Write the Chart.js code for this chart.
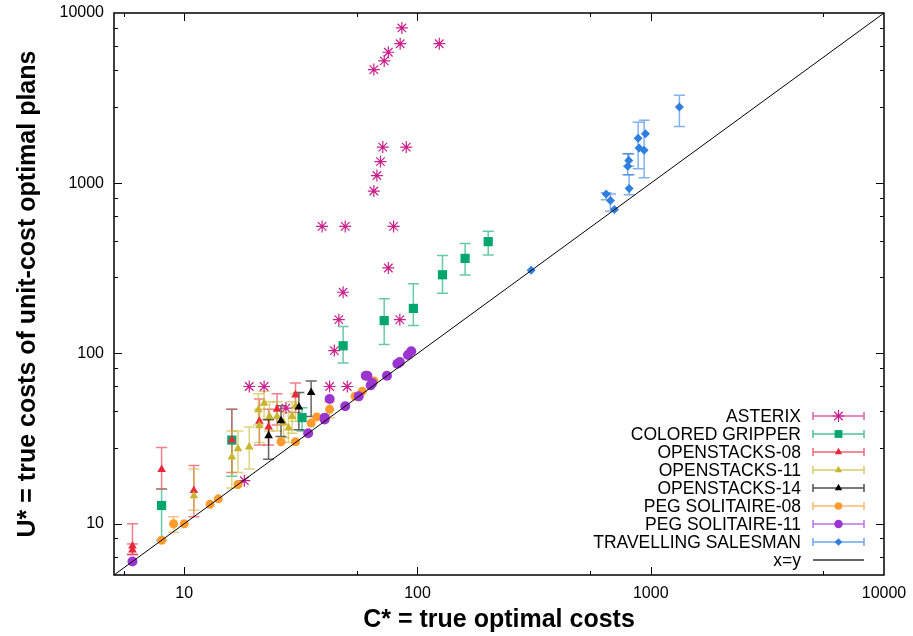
<!DOCTYPE html>
<html>
<head>
<meta charset="utf-8">
<script src="https://cdn.jsdelivr.net/npm/chart.js@4.4.0/dist/chart.umd.min.js"></script>
<style>
  html, body { margin: 0; padding: 0; background: #fff; }
  #wrap { width: 913px; height: 636px; position: relative; }
</style>
</head>
<body>
<div id="wrap"><canvas id="chart"></canvas></div>
<script>
const majorTicks = [10, 100, 1000, 10000];
const xMinorTicks = [5.5, 55, 550, 5500];
const yMinorTicks = [6.4, 8.2, 28, 46, 64, 82, 280, 460, 640, 820, 2800, 4600, 6400, 8200];
const diagonal = [5, 10000];

// [C*, U*] or [C*, U*, low, high]
const asterix = [
  [85.7, 8170], [84.3, 6600], [124, 6600], [75, 5880], [72, 5230], [65, 4650],
  [71, 1630], [89.5, 1630], [69.4, 1340], [67, 1110], [65, 900],
  [39, 558], [49, 558], [79, 558], [75, 318], [48, 229], [46, 158], [84, 158],
  [44, 104], [42, 64], [50, 64], [19, 64], [22, 64], [27.3, 47.8], [18.1, 17.9]
];
const gripper = [
  [8, 12.8, 8, 16], [16, 31, 19, 47], [32, 42, 35, 48], [48, 111, 88, 144],
  [72, 156, 113, 210], [96, 184, 146, 257], [128, 290, 226, 377],
  [160, 362, 289, 443], [201, 454, 379, 522]
];
const openstacks08 = [
  [6, 7.4, 6.6, 10], [6, 7, 6.6, 7.6], [8, 20.8, 16, 28], [11, 15.7, 11, 22],
  [16, 31, 20, 47], [21, 40, 29, 54], [23, 37, 29, 47], [30, 57, 45, 67], [25, 47, 38, 58]
];
const openstacks11 = [
  [11, 14.6, 12, 21], [16, 24.7, 16.2, 35], [17, 27.6, 20, 35], [19, 28.2, 21, 37],
  [20.8, 46.8, 38, 58], [22, 51, 41, 60], [21, 37.7, 30, 47], [23.2, 42.7, 35, 52],
  [25, 42.7, 35, 52], [26.7, 39, 32, 47], [28, 36.5, 30, 45], [29, 42.7, 34, 52], [30, 49, 40, 58]
];
const openstacks14 = [
  [23, 32.9, 23.9, 40.8], [26, 40.3, 32.5, 49.4], [31, 48.5, 35.6, 59], [35, 59, 42.7, 69]
];
const pegSolitaire08 = [
  [8, 8], [9, 10, 8.9, 11], [10, 10], [12.9, 13], [14, 14], [17, 17], [26, 30.3],
  [30, 30.3], [35, 39], [37, 42.4], [42, 47, 42, 52], [54, 56], [58, 60], [65, 69]
];
const pegSolitaire11 = [
  [6, 6], [34, 34], [40, 41], [40, 42], [42, 54], [49, 49], [56, 56], [61, 74], [60, 74],
  [63, 65], [64, 67], [74, 74], [82, 87], [84, 89], [91, 98], [94, 103]
];
const salesman = [
  [307, 308], [644, 865, 800, 880], [672, 791, 684, 865], [699, 700],
  [805, 1358, 1257, 1490], [797, 1257, 1123, 1490], [808, 933, 857, 1123],
  [883, 1836, 1218, 2280], [891, 1612], [937, 1560, 1079, 2342], [949, 1955],
  [1327, 2806, 2153, 3284]
];

const FONT = '"Liberation Sans", Arial, Helvetica, sans-serif';

const series = [
  { label: 'ASTERIX', data: asterix, color: '#c9208b', style: 'star', r: 6 },
  { label: 'COLORED GRIPPER', data: gripper, color: '#00a66c', style: 'rect', r: 6.5 },
  { label: 'OPENSTACKS-08', data: openstacks08, color: '#e8283c', style: 'triangle', r: 5 },
  { label: 'OPENSTACKS-11', data: openstacks11, color: '#c9b52c', style: 'triangle', r: 5 },
  { label: 'OPENSTACKS-14', data: openstacks14, color: '#000000', style: 'triangle', r: 5 },
  { label: 'PEG SOLITAIRE-08', data: pegSolitaire08, color: '#ff9a2e', style: 'circle', r: 4.5 },
  { label: 'PEG SOLITAIRE-11', data: pegSolitaire11, color: '#9b35d0', style: 'circle', r: 5 },
  { label: 'TRAVELLING SALESMAN', data: salesman, color: '#2f7fe0', style: 'rectRot', r: 4.5 }
];

function fade(hex, a) {
  const n = parseInt(hex.slice(1), 16);
  return `rgba(${n >> 16}, ${(n >> 8) & 255}, ${n & 255}, ${a})`;
}

// vertical error bars with caps
const errorBars = {
  id: 'errorBars',
  beforeDatasetsDraw(chart) {
    const { ctx, chartArea, scales: { x, y } } = chart;
    ctx.save();
    ctx.beginPath();
    ctx.rect(chartArea.left, chartArea.top, chartArea.right - chartArea.left, chartArea.bottom - chartArea.top);
    ctx.clip();
    ctx.lineWidth = 1.5;
    series.forEach((s) => {
      ctx.strokeStyle = fade(s.color, 0.6);
      s.data.forEach((p) => {
        if (p.length < 4) return;
        const px = x.getPixelForValue(p[0]);
        const lo = y.getPixelForValue(p[2]);
        const hi = y.getPixelForValue(p[3]);
        ctx.beginPath();
        ctx.moveTo(px, lo); ctx.lineTo(px, hi);
        ctx.moveTo(px - 5.5, lo); ctx.lineTo(px + 5.5, lo);
        ctx.moveTo(px - 5.5, hi); ctx.lineTo(px + 5.5, hi);
        ctx.stroke();
      });
    });
    ctx.restore();
  }
};

// border box and inward tick marks on all four sides
const frame = {
  id: 'frame',
  afterDraw(chart) {
    const { ctx, chartArea: a, scales: { x, y } } = chart;
    ctx.save();
    ctx.strokeStyle = '#000';
    ctx.lineWidth = 1;
    const tick = (vals, len, isX) => {
      vals.forEach((v) => {
        ctx.beginPath();
        if (isX) {
          const px = Math.round(x.getPixelForValue(v)) + 0.5;
          ctx.moveTo(px, a.bottom); ctx.lineTo(px, a.bottom - len);
          ctx.moveTo(px, a.top); ctx.lineTo(px, a.top + len);
        } else {
          const py = Math.round(y.getPixelForValue(v)) + 0.5;
          ctx.moveTo(a.left, py); ctx.lineTo(a.left + len, py);
          ctx.moveTo(a.right, py); ctx.lineTo(a.right - len, py);
        }
        ctx.stroke();
      });
    };
    tick(majorTicks.slice(0, 3), 8, true);
    tick(xMinorTicks, 4, true);
    tick(majorTicks.slice(0, 3), 8, false);
    tick(yMinorTicks, 4, false);
    ctx.lineWidth = 1.5;
    ctx.strokeRect(a.left, a.top, a.right - a.left, a.bottom - a.top);
    ctx.restore();
  }
};

// key in the lower right corner
const keyBox = {
  id: 'keyBox',
  afterDraw(chart) {
    const { ctx, chartArea: a } = chart;
    const textRight = a.right - 83;
    const lineL = a.right - 71, lineR = a.right - 20;
    const mid = (lineL + lineR) / 2;
    const rows = series.concat([{ label: 'x=y', color: '#000000' }]);
    ctx.save();
    ctx.font = '17.5px ' + FONT;
    ctx.textAlign = 'right';
    ctx.textBaseline = 'middle';
    rows.forEach((s, i) => {
      const yy = a.bottom - 15 - (rows.length - 1 - i) * 18;
      ctx.fillStyle = '#000';
      ctx.fillText(s.label, textRight, yy + 1);
      ctx.lineWidth = 1.5;
      ctx.strokeStyle = s.style ? fade(s.color, 0.7) : fade(s.color, 0.8);
      ctx.beginPath();
      ctx.moveTo(lineL, yy); ctx.lineTo(lineR, yy);
      if (s.style) {
        ctx.moveTo(lineL, yy - 4); ctx.lineTo(lineL, yy + 4);
        ctx.moveTo(lineR, yy - 4); ctx.lineTo(lineR, yy + 4);
      }
      ctx.stroke();
      if (s.style) {
        ctx.fillStyle = s.color;
        ctx.strokeStyle = s.color;
        ctx.lineWidth = 1.2;
        Chart.helpers.drawPoint(ctx, {
          pointStyle: s.style, radius: s.style === 'star' ? 6 : s.r * 0.85, rotation: 0,
          borderWidth: s.style === 'star' ? 1.2 : 0
        }, mid, yy);
      }
    });
    ctx.restore();
  }
};

const datasets = series.map((s, i) => ({
  label: s.label,
  data: s.data.map((p) => ({ x: p[0], y: p[1] })),
  pointStyle: s.style,
  pointRadius: s.r,
  backgroundColor: s.color,
  borderColor: s.color,
  borderWidth: s.style === 'star' ? 1.2 : 0,
  order: series.length - i
}));
datasets.push({
  label: 'x=y',
  data: diagonal.map((v) => ({ x: v, y: v })),
  showLine: true,
  borderColor: '#000',
  borderWidth: 1,
  pointRadius: 0,
  order: 0
});

new Chart(document.getElementById('chart'), {
  type: 'scatter',
  data: { datasets },
  options: {
    responsive: true,
    maintainAspectRatio: false,
    animation: false,
    layout: { padding: { left: 0, right: 29, top: 13, bottom: 0 } },
    plugins: { legend: { display: false }, tooltip: { enabled: false } },
    scales: {
      x: {
        type: 'logarithmic', min: 5, max: 10000,
        afterBuildTicks: (s) => { s.ticks = majorTicks.map((v) => ({ value: v })); },
        afterFit: (s) => { s.height = 61; s.paddingLeft = 0; s.paddingRight = 0; },
        ticks: { callback: (v) => String(v), color: '#000', font: { size: 16, family: FONT }, padding: 9, maxRotation: 0, autoSkip: false },
        grid: { display: false, drawTicks: false },
        border: { display: false },
        title: { display: true, text: 'C* = true optimal costs', color: '#000', font: { size: 25, weight: 'bold', family: FONT }, padding: { top: 0, bottom: 1 } }
      },
      y: {
        type: 'logarithmic', min: 5, max: 10000,
        afterBuildTicks: (s) => { s.ticks = majorTicks.map((v) => ({ value: v })); },
        afterFit: (s) => { s.width = 114; s.paddingTop = 0; s.paddingBottom = 0; },
        ticks: { callback: (v) => String(v), color: '#000', font: { size: 16, family: FONT }, padding: 10, autoSkip: false },
        grid: { display: false, drawTicks: false },
        border: { display: false },
        title: { display: true, text: 'U* = true costs of unit-cost optimal plans', color: '#000', font: { size: 25, weight: 'bold', family: FONT }, padding: { top: 13, bottom: 0 } }
      }
    }
  },
  plugins: [errorBars, frame, keyBox]
});
</script>
</body>
</html>
